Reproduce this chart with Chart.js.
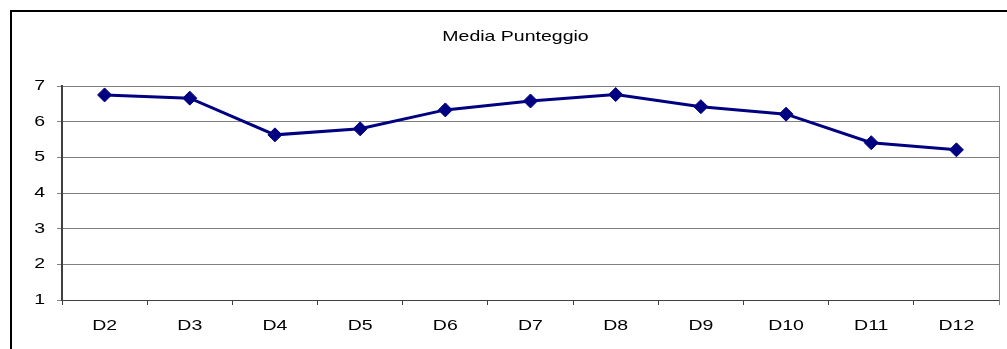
<!DOCTYPE html>
<html>
<head>
<meta charset="utf-8">
<script src="https://cdn.jsdelivr.net/npm/chart.js@4/dist/chart.umd.min.js"></script>
<style>
  html, body { margin: 0; padding: 0; background: #fff; }
  #wrap { width: 1007px; height: 349px; position: relative; }
</style>
</head>
<body>
<div id="wrap"><canvas id="chart"></canvas></div>
<script>
const categories = ['D2', 'D3', 'D4', 'D5', 'D6', 'D7', 'D8', 'D9', 'D10', 'D11', 'D12'];
const mediaPunteggio = [6.75, 6.66, 5.63, 5.80, 6.33, 6.58, 6.76, 6.42, 6.21, 5.41, 5.21];
const yTicks = [1, 2, 3, 4, 5, 6, 7];
const chartTitle = 'Media Punteggio';

const FONT = '"Liberation Sans", Arial, sans-serif';
const TEXT_STRETCH = 1.3;   // the original text is drawn wider than normal

// outer frame, right edge of the plot area and the title
const framePlugin = {
    id: 'frame',
    afterDraw(chart) {
        const ctx = chart.ctx;
        const area = chart.chartArea;
        ctx.save();
        ctx.strokeStyle = '#808080';
        ctx.lineWidth = 1;
        ctx.beginPath();
        ctx.moveTo(Math.round(area.right) + 0.5, area.top);
        ctx.lineTo(Math.round(area.right) + 0.5, area.bottom + 5);
        ctx.stroke();
        ctx.strokeStyle = '#000';
        ctx.lineWidth = 2;
        ctx.beginPath();
        ctx.moveTo(11, chart.height);
        ctx.lineTo(11, 11);
        ctx.lineTo(chart.width, 11);
        ctx.stroke();

        // title sits centred on the whole frame, which runs past the right edge
        ctx.fillStyle = '#000';
        ctx.font = '15px ' + FONT;
        ctx.textAlign = 'center';
        ctx.textBaseline = 'alphabetic';
        ctx.fillText(chartTitle, (area.left + area.right) / 2 - 15, 41);
        ctx.restore();
    }
};

const config = {
    type: 'line',
    data: {
        labels: categories,
        datasets: [{
            label: chartTitle,
            data: mediaPunteggio,
            borderColor: '#000080',
            backgroundColor: '#000080',
            borderWidth: 3,
            pointStyle: 'rectRot',
            pointRadius: 7,
            pointBorderWidth: 1,
            tension: 0,
            fill: false
        }]
    },
    options: {
        responsive: false,
        animation: false,
        devicePixelRatio: 1,
        layout: { padding: { left: 10, right: 6, top: 86, bottom: 0 } },
        plugins: {
            legend: { display: false },
            tooltip: { enabled: false },
            title: { display: false }
        },
        scales: {
            x: {
                offset: true,
                grid: {
                    offset: true,
                    drawOnChartArea: false,
                    tickLength: 5,
                    color: '#404040'
                },
                border: { color: '#404040', width: 1 },
                ticks: {
                    color: '#000',
                    padding: 12,
                    maxRotation: 0,
                    font: { family: FONT, size: 15 }
                },
                afterFit(scale) { scale.height = 49; }
            },
            y: {
                min: 1,
                max: 7,
                afterBuildTicks(scale) { scale.ticks = yTicks.map(v => ({ value: v })); },
                grid: {
                    color: '#808080',
                    lineWidth: 1,
                    tickLength: 5,
                    drawTicks: true
                },
                border: { color: '#404040', width: 2 },
                ticks: {
                    color: '#000',
                    padding: 12,
                    font: { family: FONT, size: 15 }
                },
                afterFit(scale) { scale.width = 52; }
            }
        }
    },
    plugins: [framePlugin]
};

const canvas = document.getElementById('chart');
canvas.width = 1007;
canvas.height = 349;
const ctx = canvas.getContext('2d');

// widen every label around its own anchor point
ctx.fillText = function (text, x, y) {
    this.save();
    this.translate(x, y);
    this.scale(TEXT_STRETCH, 1);
    CanvasRenderingContext2D.prototype.fillText.call(this, text, 0, 0);
    this.restore();
};

new Chart(ctx, config);
</script>
</body>
</html>
